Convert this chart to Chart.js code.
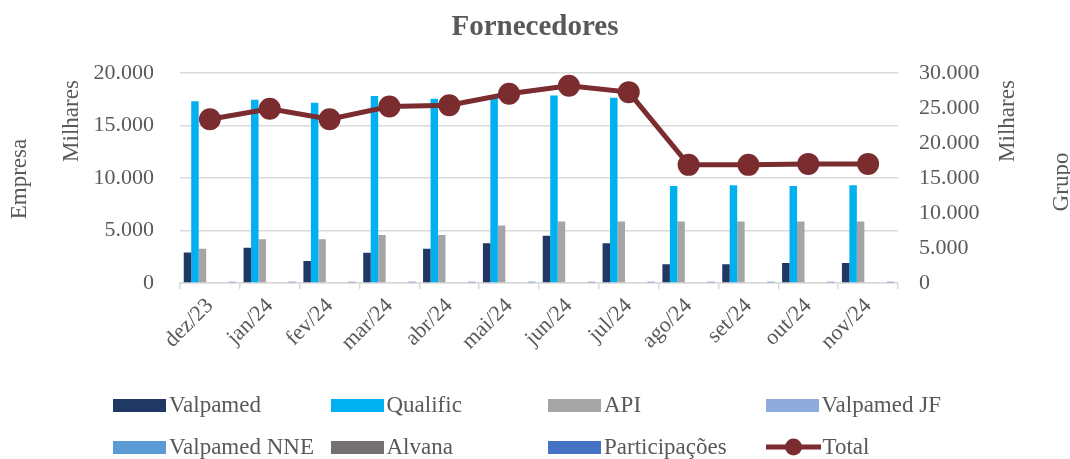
<!DOCTYPE html>
<html>
<head>
<meta charset="utf-8">
<title>Fornecedores</title>
<script src="https://cdn.jsdelivr.net/npm/chart.js"></script>
<style>
  body { margin: 0; background: #fff; }
  #wrap { position: relative; width: 1070px; height: 459px; }
  #legend {
    position: absolute; left: 113px; top: 384px;
    display: grid; grid-template-columns: repeat(4, 217.5px); grid-auto-rows: 42px;
    font-family: "Liberation Serif", serif; font-size: 23px; color: #595959;
  }
  .item { display: flex; align-items: center; white-space: nowrap; }
  .sw { width: 53px; height: 13px; margin-right: 3px; }
</style>
</head>
<body>
<div id="wrap">
  <canvas id="myChart" width="1070" height="459"></canvas>
  <div id="legend"></div>
</div>
<script>
// values in thousands (Milhares)
const months = ['dez/23','jan/24','fev/24','mar/24','abr/24','mai/24','jun/24','jul/24','ago/24','set/24','out/24','nov/24'];
const valpamed = [2900, 3360, 2100, 2890, 3270, 3780, 4500, 3780, 1780, 1780, 1900, 1900];
const qualific = [17300, 17430, 17140, 17800, 17520, 17650, 17840, 17620, 9240, 9300, 9240, 9300];
const api = [3270, 4160, 4160, 4570, 4570, 5460, 5840, 5840, 5840, 5840, 5840, 5840];
const valpamedJF = [0, 0, 0, 0, 0, 0, 60, 0, 0, 0, 0, 0];
const valpamedNNE = [0, 0, 0, 0, 0, 0, 0, 0, 0, 0, 0, 0];
const alvana = [0, 0, 0, 0, 0, 0, 0, 0, 80, 0, 0, 0];
const participacoes = [120, 120, 120, 120, 120, 120, 120, 120, 120, 120, 120, 120];
const total = [23380, 24860, 23380, 25190, 25380, 27000, 28140, 27240, 16860, 16860, 17000, 17000];

const sideLabels = [
    { text: 'Empresa', side: 'left', dx: -160, y: 179 },
    { text: 'Milhares', side: 'left', dx: -108, y: 121 },
    { text: 'Milhares', side: 'right', dx: 110, y: 121 },
    { text: 'Grupo', side: 'right', dx: 164, y: 182 }
];

const txt = '#595959';
const font = 'Liberation Serif';

function fmt(v) {
    return String(Math.round(v)).replace(/\B(?=(\d{3})+(?!\d))/g, '.');
}

function bar(label, data, color) {
    return { type: 'bar', label: label, data: data, backgroundColor: color, borderWidth: 0, yAxisID: 'y', order: 1 };
}

const sideLabelPlugin = {
    id: 'sideLabels',
    afterDraw(chart) {
        const ctx = chart.ctx;
        const a = chart.chartArea;
        ctx.save();
        ctx.fillStyle = txt;
        ctx.font = '23px "' + font + '"';
        ctx.textAlign = 'center';
        ctx.textBaseline = 'middle';
        sideLabels.forEach(l => {
            const x = l.side == 'left' ? a.left + l.dx : a.right + l.dx;
            ctx.save();
            ctx.translate(x, l.y);
            ctx.rotate(-Math.PI / 2);
            ctx.fillText(l.text, 0, 0);
            ctx.restore();
        });
        ctx.restore();
    }
};

Chart.defaults.font.family = font;
Chart.defaults.font.size = 22;
Chart.defaults.color = txt;

const ctx = document.getElementById('myChart');
const chart = new Chart(ctx, {
    data: {
        labels: months,
        datasets: [
            bar('Valpamed', valpamed, '#203864'),
            bar('Qualific', qualific, '#00B0F0'),
            bar('API', api, '#A5A5A5'),
            bar('Valpamed JF', valpamedJF, '#8FAADC'),
            bar('Valpamed NNE', valpamedNNE, '#5B9BD5'),
            bar('Alvana', alvana, '#767171'),
            bar('Participações', participacoes, '#4472C4'),
            {
                type: 'line', label: 'Total', data: total, yAxisID: 'y1', order: 0,
                borderColor: '#7B2C2F', backgroundColor: '#7B2C2F', borderWidth: 5,
                pointRadius: 8.5, pointHoverRadius: 8.5, tension: 0
            }
        ]
    },
    options: {
        responsive: false,
        animation: false,
        layout: { padding: 0 },
        datasets: { bar: { categoryPercentage: 0.875, barPercentage: 1 } },
        plugins: {
            legend: { display: false },
            tooltip: { enabled: false },
            title: {
                display: true, text: 'Fornecedores', color: txt,
                font: { size: 29, weight: 'bold' },
                padding: { top: 10, bottom: 28 }
            }
        },
        scales: {
            x: {
                grid: { display: true, drawOnChartArea: false, drawTicks: true, tickLength: 6, offset: true, color: '#d9d9d9', lineWidth: 1.5 },
                border: { color: '#d9d9d9', width: 1.5 },
                ticks: { maxRotation: 45, minRotation: 45, padding: 4, color: txt },
                afterFit(s) { s.height = 176; }
            },
            y: {
                position: 'left', min: 0, max: 20000,
                ticks: { stepSize: 5000, padding: 26, callback: v => fmt(v), color: txt },
                grid: { color: '#d9d9d9', lineWidth: 1.5, drawTicks: false },
                border: { display: false },
                afterFit(s) { s.width = 180; }
            },
            y1: {
                position: 'right', min: 0, max: 30000,
                ticks: { stepSize: 5000, padding: 21, callback: v => fmt(v), color: txt },
                grid: { drawOnChartArea: false, drawTicks: false },
                border: { display: false },
                afterFit(s) { s.width = 172; }
            }
        }
    },
    plugins: [sideLabelPlugin]
});

// legend built from the chart's datasets
const leg = document.getElementById('legend');
chart.data.datasets.forEach(ds => {
    const item = document.createElement('div');
    item.className = 'item';
    let sw;
    if (ds.type == 'line') {
        sw = document.createElement('canvas');
        sw.width = 55; sw.height = 20;
        sw.style.marginRight = '2px';
        const c = sw.getContext('2d');
        c.strokeStyle = ds.borderColor; c.lineWidth = 5;
        c.beginPath(); c.moveTo(0, 10); c.lineTo(55, 10); c.stroke();
        c.fillStyle = ds.borderColor;
        c.beginPath(); c.arc(27.5, 10, 8.5, 0, Math.PI * 2); c.fill();
    } else {
        sw = document.createElement('span');
        sw.className = 'sw';
        sw.style.background = ds.backgroundColor;
    }
    item.appendChild(sw);
    item.appendChild(document.createTextNode(ds.label));
    leg.appendChild(item);
});
</script>
</body>
</html>
